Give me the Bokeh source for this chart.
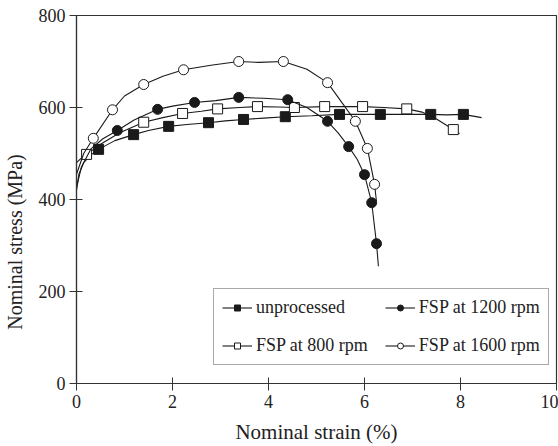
from bokeh.plotting import figure
from bokeh.models import Range1d, FixedTicker, Legend, LegendItem
from bokeh.embed import file_html
from bokeh.resources import INLINE

# ---- data ----
unproc_line_x = [0, 0.05, 0.15, 0.3, 0.46, 0.8, 1.19, 1.5, 1.92, 2.3, 2.75, 3.1, 3.48, 3.9, 4.35, 4.9, 5.48, 5.9, 6.33, 6.9, 7.38, 7.7, 8.06, 8.44]
unproc_line_y = [420, 455, 480, 497, 509, 528, 541, 550, 559, 563, 567, 571, 574, 577, 580, 582, 585, 585, 585, 585, 585, 584, 585, 578]
unproc_mark_x = [0.46, 1.19, 1.92, 2.75, 3.48, 4.35, 5.48, 6.33, 7.38, 8.06]
unproc_mark_y = [509, 541, 559, 567, 574, 580, 585, 585, 585, 585]

fsp800_line_x = [0, 0.1, 0.21, 0.5, 0.9, 1.4, 1.8, 2.21, 2.6, 2.94, 3.4, 3.77, 4.2, 4.54, 5.17, 5.96, 6.4, 6.88, 7.2, 7.5, 7.85, 7.98]
fsp800_line_y = [480, 490, 498, 520, 545, 568, 578, 587, 592, 597, 600, 602, 601, 600, 602, 602, 600, 597, 590, 575, 552, 543]
fsp800_mark_x = [0.21, 1.4, 2.21, 2.94, 3.77, 4.54, 5.17, 5.96, 6.88, 7.85]
fsp800_mark_y = [498, 568, 587, 597, 602, 600, 602, 602, 597, 552]

fsp1200_line_x = [0, 0.1, 0.3, 0.55, 0.85, 1.2, 1.69, 2.0, 2.46, 2.9, 3.38, 3.9, 4.40, 4.8, 5.23, 5.45, 5.67, 5.85, 6.0, 6.15, 6.25, 6.29]
fsp1200_line_y = [426, 470, 510, 532, 550, 573, 596, 603, 611, 615, 622, 620, 617, 600, 570, 545, 515, 487, 454, 393, 304, 255]
fsp1200_mark_x = [0.85, 1.69, 2.46, 3.38, 4.40, 5.23, 5.67, 6.0, 6.15, 6.25]
fsp1200_mark_y = [550, 596, 611, 622, 617, 570, 515, 454, 393, 304]

fsp1600_line_x = [0, 0.15, 0.35, 0.75, 1.0, 1.4, 1.8, 2.23, 2.8, 3.38, 3.8, 4.31, 4.8, 5.23, 5.5, 5.81, 6.06, 6.21, 6.25]
fsp1600_line_y = [455, 500, 533, 595, 625, 650, 668, 682, 692, 700, 698, 700, 683, 654, 615, 570, 511, 433, 395]
fsp1600_mark_x = [0.35, 0.75, 1.4, 2.23, 3.38, 4.31, 5.23, 5.81, 6.06, 6.21]
fsp1600_mark_y = [533, 595, 650, 682, 700, 700, 654, 570, 511, 433]

x_ticks = [0, 2, 4, 6, 8, 10]
y_ticks = [0, 200, 400, 600, 800]

FONT = "Liberation Serif"
INK = "#1a1a1a"

p = figure(width=558, height=446, output_backend="svg", toolbar_location=None,
           x_range=Range1d(0, 10), y_range=Range1d(0, 800),
           min_border_left=76, min_border_right=2, min_border_top=15, min_border_bottom=62)
p.grid.visible = False
p.outline_line_color = "#333333"
p.outline_line_width = 1.2
p.background_fill_color = "white"
p.border_fill_color = "white"

for ax in (p.xaxis[0], p.yaxis[0]):
    ax.major_label_text_font = FONT
    ax.major_label_text_font_size = "18px"
    ax.major_label_text_color = "#222222"
    ax.axis_label_text_font = FONT
    ax.axis_label_text_font_style = "normal"
    ax.axis_label_text_color = "#222222"
    ax.axis_line_color = "#333333"
    ax.axis_line_width = 1.2
    ax.major_tick_line_color = "#333333"
    ax.major_tick_in = 6
    ax.major_tick_out = 7
    ax.minor_tick_line_color = None
    ax.major_label_standoff = 4

p.xaxis[0].ticker = FixedTicker(ticks=x_ticks)
p.yaxis[0].ticker = FixedTicker(ticks=y_ticks)
p.xaxis[0].axis_label = "Nominal strain (%)"
p.xaxis[0].axis_label_text_font_size = "21px"
p.xaxis[0].axis_label_standoff = 9
# trailing no-break spaces nudge the rotated title below the frame centre, as in the reference
p.yaxis[0].axis_label = "Nominal stress (MPa)" + "\u00a0" * 17
p.yaxis[0].axis_label_text_font_size = "20px"
p.yaxis[0].axis_label_standoff = 10

series = [
    ("unprocessed", unproc_line_x, unproc_line_y, unproc_mark_x, unproc_mark_y, "square", INK),
    ("FSP at 800 rpm", fsp800_line_x, fsp800_line_y, fsp800_mark_x, fsp800_mark_y, "square", "white"),
    ("FSP at 1200 rpm", fsp1200_line_x, fsp1200_line_y, fsp1200_mark_x, fsp1200_mark_y, "circle", INK),
    ("FSP at 1600 rpm", fsp1600_line_x, fsp1600_line_y, fsp1600_mark_x, fsp1600_mark_y, "circle", "white"),
]

items = []
for name, lx, ly, mx, my, marker, fill in series:
    l = p.line(lx, ly, line_color=INK, line_width=1.1)
    s = p.scatter(mx, my, marker=marker, size=10, fill_color=fill, line_color=INK, line_width=1)
    items.append(LegendItem(label=name, renderers=[l, s]))

legend = Legend(items=items, location=(137, 18), ncols=2,
                label_text_font=FONT, label_text_font_size="18px", label_text_color="#222222",
                glyph_width=30, glyph_height=15, label_standoff=4, label_height=20,
                spacing=17, padding=8, margin=0,
                border_line_color="#555555", border_line_width=1,
                background_fill_color="white", background_fill_alpha=1)
p.add_layout(legend, "center")

open("out.html", "w").write(file_html(p, INLINE))
